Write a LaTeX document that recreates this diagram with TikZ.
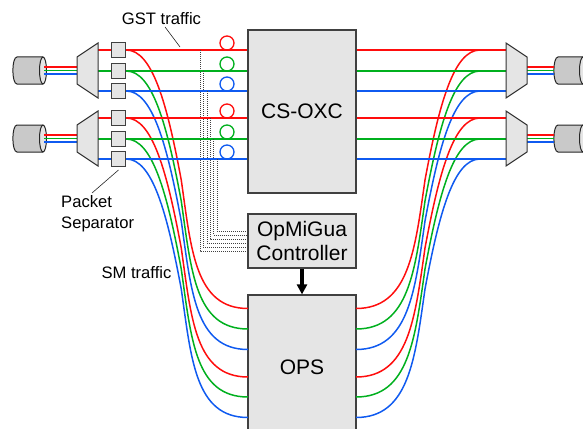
\documentclass[tikz,border=0pt]{standalone}
\usepackage{fontspec}
\setmainfont{Liberation Sans}
\usetikzlibrary{calc,positioning,shapes.geometric,arrows.meta}
\definecolor{sigred}{HTML}{FF0D0D}
\definecolor{siggreen}{HTML}{00B01E}
\definecolor{sigblue}{HTML}{0F5AF0}
\definecolor{boxgray}{HTML}{E5E5E5}
\definecolor{cabgray}{HTML}{C9C9C9}
\definecolor{edgegray}{HTML}{404040}
\tikzstyle{switch}    = [rectangle, draw=edgegray, line width=1.2pt, fill=boxgray, minimum width=108pt, inner sep=0pt, align=center, font=\fontsize{21}{24}\selectfont]
\tikzstyle{fibre}     = [line width=1.5pt]
\tikzstyle{core}      = [line width=1.3pt]
\tikzstyle{mux}       = [draw=black!80, line width=1pt, fill=boxgray]
\tikzstyle{cable}     = [draw=black!85, line width=1pt, fill=cabgray]
\tikzstyle{leader}    = [line width=0.6pt, black!85]

\begin{document}
\begin{tikzpicture}[x=1pt,y=-1pt,
			separator/.style={rectangle, draw=edgegray, line width=1pt, fill=boxgray, minimum size=14.5pt, inner sep=0pt},
			delay/.style={circle, draw, line width=1.3pt, minimum size=14pt, inner sep=0pt},
			cabend/.style={ellipse, draw=black!85, line width=1pt, fill=boxgray, minimum width=7pt, minimum height=27pt, inner sep=0pt},
			signal/.style={dash pattern=on 1pt off 1pt, line width=0.8pt, black!75},
			label/.style={font=\fontsize{16.6}{21}\selectfont, inner sep=0pt, align=left},
		]
		\clip (0,0) rectangle (583,428);

		\node[switch, minimum height=163pt] (oxc) at (302,111.5) {CS-OXC};
		\node[switch, minimum height=54pt] (ctl) at (302,241) {OpMiGua\\Controller};
		\node[switch, minimum height=145pt] (ops) at (302,367.5) {OPS};

		\foreach \n/\y/\c/\p/\dx/\hy in {1/50/sigred/308.5/200/251, 2/71/siggreen/329/203/247, 3/91/sigblue/349.5/207/243, 4/118/sigred/377/210/239, 5/139/siggreen/397/213.5/235, 6/159/sigblue/417.5/217/231} {
			\coordinate (in\n) at (98,\y);
			\coordinate (out\n) at (506,\y);
			\coordinate (merge\n) at (480,\y);
			\coordinate (tap\n) at (\dx,\y);
			\coordinate (opsl\n) at (248,\p);
			\coordinate (opsr\n) at (356,\p);
			\draw[fibre,\c] (in\n) -- (oxc.west |- in\n);
			\draw[fibre,\c] (oxc.east |- out\n) -- (out\n);
			\node[separator] (sep\n) at (118.5,\y) {};
			\node[delay,draw=\c] (buf\n) at (227,\y-7) {};
			\draw[fibre,\c] (sep\n.east) .. controls +(26.5,0) and +(-14,-75) .. ++(55,130) .. controls +(10,70) and +(-53,0) .. (opsl\n);
			\draw[fibre,\c] (merge\n) .. controls +(-26.5,0) and +(14,-75) .. ++(-55,130) .. controls +(-10,70) and +(53,0) .. (opsr\n);
			\draw[signal] (tap\n) |- (ctl.west |- 0,\hy);
		}

		\foreach \s/\y in {1/70.5, 2/138.5} {
			\coordinate (dmxl\s) at (77,\y);
			\coordinate (dmxr\s) at (527,\y);
			\draw[cable] (43,\y-13.5) -- (17,\y-13.5) .. controls +(-5.5,0) and +(-5.5,0) .. (17,\y+13.5) -- (43,\y+13.5);
			\draw[cable] (583,\y-13.5) -- (558,\y-13.5) .. controls +(-5.5,0) and +(-5.5,0) .. (558,\y+13.5) -- (583,\y+13.5);
			\node[cabend] (cabl\s) at (43,\y) {};
			\node[cabend] (cabr\s) at (583,\y) {};
			\coordinate (cabin\s) at (554,\y);
			\foreach \o/\c in {-3.6/sigred, 0/siggreen, 3.6/sigblue} {
				\draw[core,\c] ($(cabl\s)+(1,\o)$) -- ($(dmxl\s)+(0,\o)$);
				\draw[core,\c] ($(dmxr\s)+(0,\o)$) -- ($(cabin\s)+(0,\o)$);
			}
			\draw[mux] (dmxl\s)+(0,-13.5) -- +(21,-27.5) -- +(21,27.5) -- +(0,13.5) -- cycle;
			\draw[mux] (dmxr\s)+(0,-13.5) -- +(-21,-27.5) -- +(-21,27.5) -- +(0,13.5) -- cycle;
		}

		\draw[line width=3.2pt,-{Triangle[width=10pt,length=10pt]}] (ctl.south) -- (ops.north);

		\node[label] (gst) at (161.5,19) {GST traffic};
		\node[label,anchor=north west] (pkt) at (61,195) {Packet\\Separator};
		\node[label] (sm) at (136.5,273) {SM traffic};
		\coordinate (gstend) at (180,47);
		\draw[leader] (165,27) -- (gstend);
		\draw[leader] (sep6.south |- 0,170) -- (92,193);
	\end{tikzpicture}
\end{document}
